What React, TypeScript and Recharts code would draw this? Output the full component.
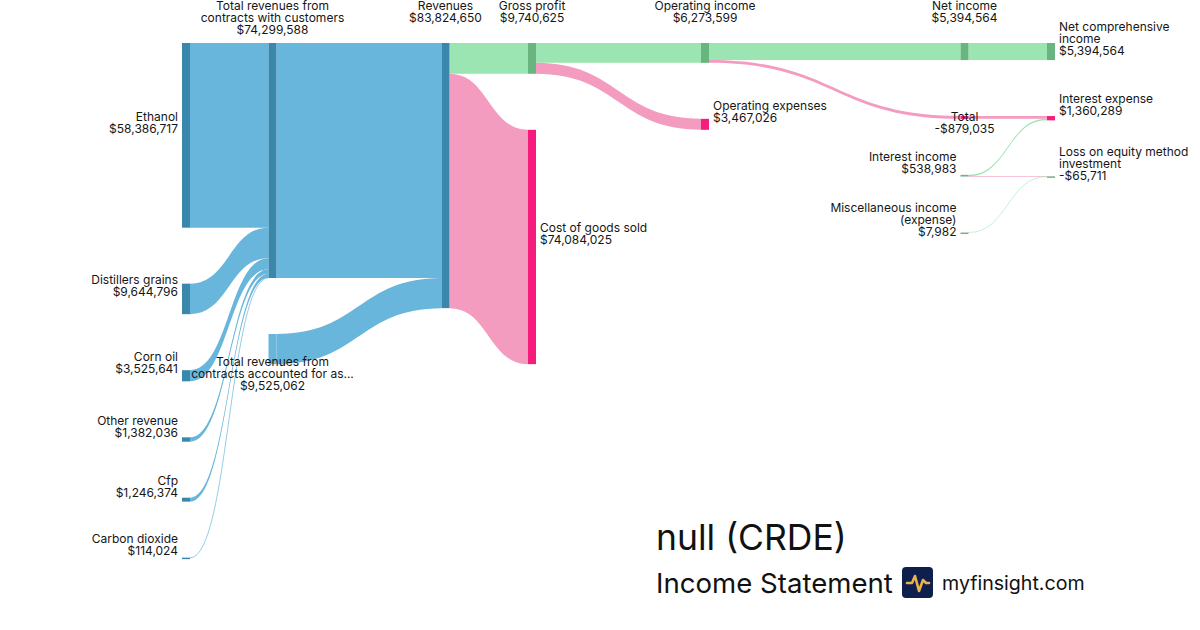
import React from 'react';
import { Sankey } from 'recharts';

// node names, grouped by column from left to right
const nodeNames = [
  'Ethanol',
  'Distillers grains',
  'Corn oil',
  'Other revenue',
  'Cfp',
  'Carbon dioxide',
  'Total revenues from contracts with customers',
  'Total revenues from contracts accounted for as...',
  'Revenues',
  'Gross profit',
  'Cost of goods sold',
  'Operating income',
  'Operating expenses',
  'Net income',
  'Total',
  'Interest income',
  'Miscellaneous income (expense)',
  'Net comprehensive income',
  'Interest expense',
  'Loss on equity method investment',
  // empty spacer columns, never drawn
  'spacer 1',
  'spacer 2',
  'spacer 3',
  'spacer 4',
];

const nodeKinds = [
  'revenue', 'revenue', 'revenue', 'revenue', 'revenue', 'revenue',
  'revenue', 'source',
  'revenue',
  'profit', 'cost',
  'profit', 'cost',
  'profit', 'cost', 'other', 'other',
  'profit', 'cost', 'other',
  'spacer', 'spacer', 'spacer', 'spacer',
];

// shown with a minus sign
const negativeNodes = ['Total', 'Loss on equity method investment'];

const linkFrom = [
  'Ethanol',
  'Distillers grains',
  'Corn oil',
  'Other revenue',
  'Cfp',
  'Carbon dioxide',
  'Total revenues from contracts with customers',
  'Total revenues from contracts accounted for as...',
  'Revenues',
  'Revenues',
  'Gross profit',
  'Gross profit',
  'Operating income',
  'Operating income',
  'Net income',
  'Total',
  'Interest income',
  'Interest income',
  'Miscellaneous income (expense)',
];

const linkTo = [
  'Total revenues from contracts with customers',
  'Total revenues from contracts with customers',
  'Total revenues from contracts with customers',
  'Total revenues from contracts with customers',
  'Total revenues from contracts with customers',
  'Total revenues from contracts with customers',
  'Revenues',
  'Revenues',
  'Gross profit',
  'Cost of goods sold',
  'Operating income',
  'Operating expenses',
  'Net income',
  'Total',
  'Net comprehensive income',
  'Interest expense',
  'Interest expense',
  'Loss on equity method investment',
  'Loss on equity method investment',
];

const linkValues = [
  58386717, 9644796, 3525641, 1382036, 1246374, 114024,
  74299588, 9525062,
  9740625, 74084025,
  6273599, 3467026,
  5394564, 879035,
  5394564, 879035,
  481254, 57729, 7982,
];

const linkKinds = [
  'revenue', 'revenue', 'revenue', 'revenue', 'revenue', 'revenue',
  'revenue', 'revenue',
  'profit', 'cost',
  'profit', 'cost',
  'profit', 'cost',
  'profit', 'cost',
  'profit', 'cost', 'profit',
];

// zero-value links, never drawn: they only push nodes into the right column
const anchorFrom = [
  'Carbon dioxide',
  'Total revenues from contracts with customers',
  'spacer 1',
  'Gross profit',
  'Cost of goods sold',
  'spacer 2',
  'spacer 2',
  'Operating income',
  'Operating expenses',
  'spacer 3',
  'spacer 4',
  'spacer 4',
  'spacer 4',
  'spacer 4',
];
const anchorTo = [
  'Total revenues from contracts accounted for as...',
  'spacer 1',
  'Revenues',
  'spacer 2',
  'spacer 2',
  'Operating income',
  'Operating expenses',
  'spacer 3',
  'spacer 3',
  'spacer 4',
  'Net income',
  'Total',
  'Interest income',
  'Miscellaneous income (expense)',
];

const NODE_COLOR: Record<string, string> = {
  revenue: '#3a87ae',
  source: '#69b6dc',
  profit: '#68b580',
  cost: '#f61c7c',
  other: '#7bab8a',
};

const LINK_COLOR: Record<string, string> = {
  revenue: '#69b6dc',
  profit: '#9be5b2',
  cost: '#f49bc0',
};

type Side = 'left' | 'right' | 'above' | 'below';

const LABEL_SIDE: Record<string, Side> = {
  'Total revenues from contracts with customers': 'above',
  Revenues: 'above',
  'Gross profit': 'above',
  'Operating income': 'above',
  'Net income': 'above',
  'Total revenues from contracts accounted for as...': 'below',
  Total: 'below',
  'Interest income': 'left',
  'Miscellaneous income (expense)': 'left',
  'Cost of goods sold': 'right',
  'Operating expenses': 'right',
};

const LABEL_LINES: Record<string, string[]> = {
  'Total revenues from contracts accounted for as...': ['Total revenues from', 'contracts accounted for as...'],
};

const nodes = nodeNames.map((name, i) => ({ name, kind: nodeKinds[i] }));
const idx = (name: string) => nodeNames.indexOf(name);
const links = [
  ...linkFrom.map((from, i) => ({
    source: idx(from),
    target: idx(linkTo[i]),
    value: linkValues[i],
    kind: linkKinds[i],
  })),
  ...anchorFrom.map((from, i) => ({ source: idx(from), target: idx(anchorTo[i]), value: 0, kind: 'anchor' })),
];

const wrap = (text: string, max: number) => {
  const out: string[] = [];
  let line = '';
  text.split(' ').forEach((w) => {
    if (line && (line + ' ' + w).length > max) {
      out.push(line);
      line = w;
    } else {
      line = line ? line + ' ' + w : w;
    }
  });
  if (line) out.push(line);
  return out;
};

const money = (v: number, neg: boolean) => `${neg ? '-' : ''}$${v.toLocaleString('en-US')}`;

const LINE = 12;

const SankeyNode = (props: any) => {
  const { x, y, width, height, payload } = props;
  if (payload.kind === 'spacer') return <g />;
  const name: string = payload.name;
  const side: Side = LABEL_SIDE[name] ?? (payload.depth === 0 ? 'left' : 'right');
  const h = Math.max(height, 1.5);
  const cy = y + height / 2;

  const nameLines = LABEL_LINES[name] ?? wrap(name, side === 'right' ? 21 : 24);
  const lines = [...nameLines, money(payload.value, negativeNodes.includes(name))];
  const n = lines.length;

  let tx = x + width + 4;
  let anchor: 'start' | 'middle' | 'end' = 'start';
  let firstY = cy - 12 - ((n - 1) * LINE) / 2;
  if (side === 'left') {
    tx = x - 4;
    anchor = 'end';
  } else if (side === 'above') {
    tx = x + width / 2;
    anchor = 'middle';
    firstY = Math.max(7, y - 26 - (n - 1) * LINE);
  } else if (side === 'below') {
    tx = x + width / 2;
    anchor = 'middle';
    firstY = y + height - 1.5;
  }

  return (
    <g>
      <rect x={x} y={y} width={width} height={h} fill={NODE_COLOR[payload.kind]} />
      <text x={tx} textAnchor={anchor} fontSize={12} fill="#161616">
        {lines.map((l, i) => (
          <tspan key={i} x={tx} y={firstY + i * LINE} dominantBaseline="middle">
            {l}
          </tspan>
        ))}
      </text>
    </g>
  );
};

// links drawn as filled bands so steep, short flows keep their shape
const SankeyLink = (props: any) => {
  const { sourceX, targetX, sourceY, targetY, sourceControlX, targetControlX, linkWidth, payload } = props;
  if (!payload.value) return <g />;
  const color = LINK_COLOR[payload.kind];
  if (linkWidth < 1.2) {
    return (
      <path
        d={`M${sourceX},${sourceY}C${sourceControlX},${sourceY} ${targetControlX},${targetY} ${targetX},${targetY}`}
        fill="none"
        stroke={color}
        strokeWidth={Math.max(linkWidth, 1)}
        strokeOpacity={linkWidth < 1 ? 0.55 + linkWidth * 0.4 : 1}
      />
    );
  }
  const hw = linkWidth / 2;
  const s0 = sourceY - hw;
  const s1 = sourceY + hw;
  const t0 = targetY - hw;
  const t1 = targetY + hw;
  const d =
    `M${sourceX},${s0}C${sourceControlX},${s0} ${targetControlX},${t0} ${targetX},${t0}` +
    `L${targetX},${t1}C${targetControlX},${t1} ${sourceControlX},${s1} ${sourceX},${s1}Z`;
  return <path d={d} fill={color} stroke="none" />;
};

export default function App() {
  return (
    <div
      style={{
        position: 'absolute',
        left: 0,
        top: 0,
        width: 1200,
        height: 630,
        background: '#fff',
        fontFamily: 'Inter, "Noto Sans", sans-serif',
      }}
    >
      <Sankey
        width={1200}
        height={630}
        data={{ nodes, links }}
        nodeWidth={8}
        nodePadding={56}
        iterations={0}
        linkCurvature={0.5}
        margin={{ top: 43, right: 145, bottom: 72, left: 182 }}
        node={<SankeyNode />}
        link={<SankeyLink />}
      />
      <svg width={1200} height={630} style={{ position: 'absolute', left: 0, top: 0, pointerEvents: 'none' }}>
        <text x={656} y={550} fontSize={35.5} fill="#111">
          null (CRDE)
        </text>
        <text x={656} y={593} fontSize={27.6} fill="#111">
          Income Statement
        </text>
        <rect x={902} y={567} width={31} height={31} rx={4} fill="#0e1f4e" />
        <path
          d="M907,583 L912,583 L915,576 L919,591 L923,580 L926,583 L929,583"
          fill="none"
          stroke="#e9b04e"
          strokeWidth={2.6}
          strokeLinecap="round"
          strokeLinejoin="round"
        />
        <text x={942} y={590} fontSize={19.6} fill="#111">
          myfinsight.com
        </text>
      </svg>
    </div>
  );
}
